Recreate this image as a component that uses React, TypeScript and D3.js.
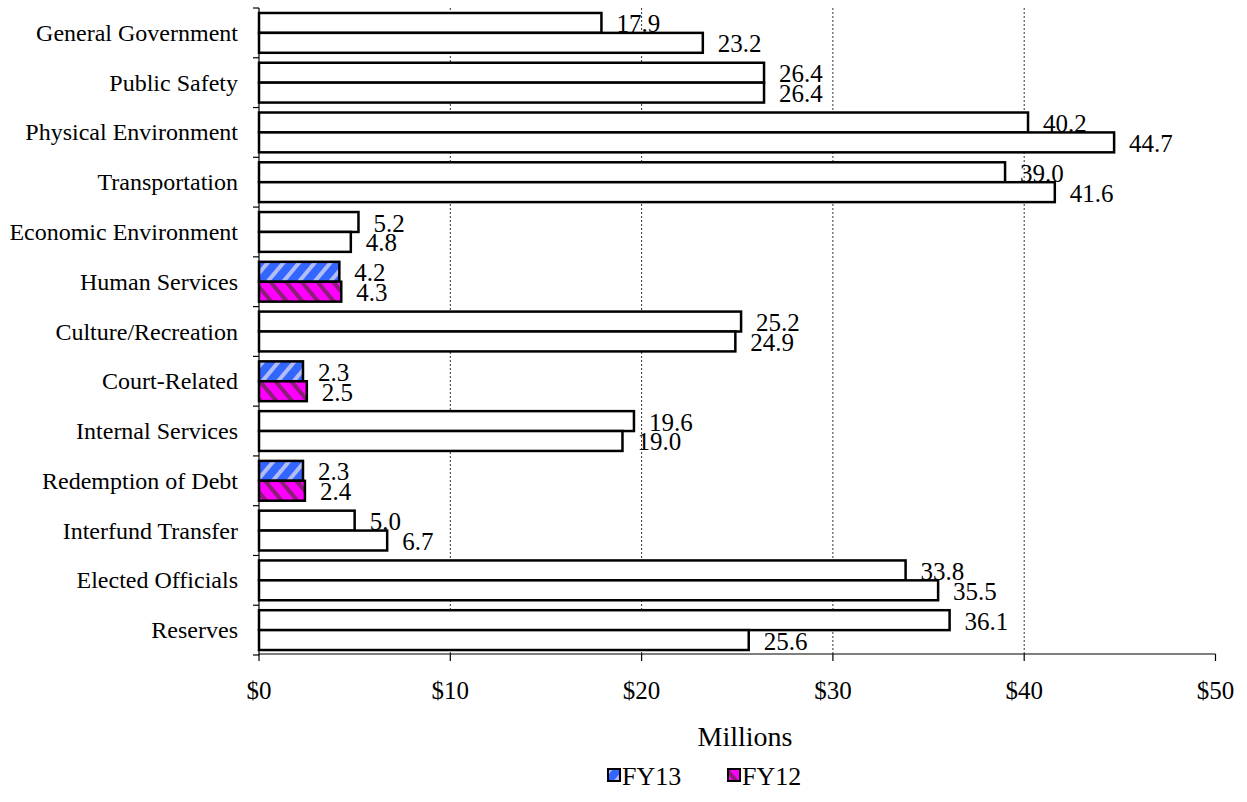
import React from "react";
import * as d3 from "d3";

const categories = [
  "General Government",
  "Public Safety",
  "Physical Environment",
  "Transportation",
  "Economic Environment",
  "Human Services",
  "Culture/Recreation",
  "Court-Related",
  "Internal Services",
  "Redemption of Debt",
  "Interfund Transfer",
  "Elected Officials",
  "Reserves",
];
const fy13 = [17.9, 26.4, 40.2, 39.0, 5.2, 4.2, 25.2, 2.3, 19.6, 2.3, 5.0, 33.8, 36.1];
const fy12 = [23.2, 26.4, 44.7, 41.6, 4.8, 4.3, 24.9, 2.5, 19.0, 2.4, 6.7, 35.5, 25.6];
const filledCategories = ["Human Services", "Court-Related", "Redemption of Debt"];
const seriesNames = ["FY13", "FY12"];
const xTicks = [0, 10, 20, 30, 40, 50];
const gridTicks = [10, 20, 30, 40];

const W = 1247;
const H = 802;
const FONT = "'Liberation Serif', 'Times New Roman', Times, serif";

export default function App() {
  const left = 259;
  const right = 1215.5;
  const top = 8;
  const bottom = 655;

  const x = d3.scaleLinear().domain([0, 50]).range([left, right]);
  const y = d3.scaleBand<string>().domain(categories).range([top, bottom]).paddingInner(0).paddingOuter(0);
  const inner = d3
    .scaleBand<string>()
    .domain(seriesNames)
    .range([0, y.bandwidth()])
    .paddingOuter(0.25)
    .paddingInner(0);

  const series = [
    { name: "FY13", values: fy13, pattern: "url(#pBlue)" },
    { name: "FY12", values: fy12, pattern: "url(#pMag)" },
  ];

  return (
    <svg
      width={W}
      height={H}
      style={{ position: "absolute", left: 0, top: 0, background: "#fff" }}
      fontFamily={FONT}
    >
      <defs>
        <pattern id="pBlue" patternUnits="userSpaceOnUse" width="12" height="12" patternTransform="rotate(40)">
          <rect width="12" height="12" fill="#3366ff" />
          <rect x="0" width="4" height="12" fill="#b3bdf5" />
        </pattern>
        <pattern id="pMag" patternUnits="userSpaceOnUse" width="12" height="12" patternTransform="rotate(-40)">
          <rect width="12" height="12" fill="#ff00ff" />
          <rect x="0" width="4" height="12" fill="#8a1f75" />
        </pattern>
      </defs>

      {/* gridlines */}
      {gridTicks.map((t) => (
        <line
          key={t}
          x1={x(t)}
          x2={x(t)}
          y1={top}
          y2={bottom}
          stroke="#333"
          strokeWidth={1}
          strokeDasharray="2,2"
        />
      ))}

      {/* bars */}
      {categories.map((c, i) =>
        series.map((s) => {
          const filled = filledCategories.includes(c);
          const y0 = (y(c) as number) + (inner(s.name) as number);
          const v = s.values[i];
          return (
            <rect
              key={c + s.name}
              x={x(0)}
              y={y0}
              width={x(v) - x(0)}
              height={inner.bandwidth()}
              fill={filled ? s.pattern : "#fff"}
              stroke="#000"
              strokeWidth={2.5}
            />
          );
        })
      )}

      {/* value labels */}
      {categories.map((c, i) =>
        series.map((s) => {
          const y0 = (y(c) as number) + (inner(s.name) as number) + inner.bandwidth() / 2;
          const v = s.values[i];
          return (
            <text
              key={"l" + c + s.name}
              x={x(v) + 15}
              y={y0 + 1}
              dominantBaseline="central"
              fontSize={25}
              fill="#000"
            >
              {v.toFixed(1)}
            </text>
          );
        })
      )}

      {/* y axis */}
      <line x1={left} x2={left} y1={top} y2={bottom} stroke="#000" strokeWidth={1.2} />
      {[...categories.map((c) => y(c) as number), bottom].map((t, i) => (
        <line key={"yt" + i} x1={left - 6} x2={left} y1={t} y2={t} stroke="#000" strokeWidth={1.2} />
      ))}
      {categories.map((c) => (
        <text
          key={"yl" + c}
          x={238}
          y={(y(c) as number) + y.bandwidth() / 2}
          textAnchor="end"
          dominantBaseline="central"
          fontSize={24}
          fill="#000"
        >
          {c}
        </text>
      ))}

      {/* x axis */}
      <line x1={left} x2={right} y1={bottom - 1} y2={bottom - 1} stroke="#000" strokeWidth={1.2} />
      {xTicks.map((t) => (
        <g key={"xt" + t}>
          <line x1={x(t)} x2={x(t)} y1={bottom - 1} y2={bottom + 6} stroke="#000" strokeWidth={1.2} />
          <text x={x(t)} y={690} textAnchor="middle" dominantBaseline="central" fontSize={25} fill="#000">
            {"$" + t}
          </text>
        </g>
      ))}
      <text x={745} y={736} textAnchor="middle" dominantBaseline="central" fontSize={28} fill="#000">
        Millions
      </text>

      {/* legend */}
      {series.map((s, i) => {
        const lx = i === 0 ? 608 : 728;
        return (
          <g key={"lg" + s.name}>
            <rect x={lx} y={769} width={12} height={12} fill={s.pattern} stroke="#000" strokeWidth={2} />
            <text x={lx + 14} y={776} dominantBaseline="central" fontSize={26} fill="#000">
              {s.name}
            </text>
          </g>
        );
      })}
    </svg>
  );
}
